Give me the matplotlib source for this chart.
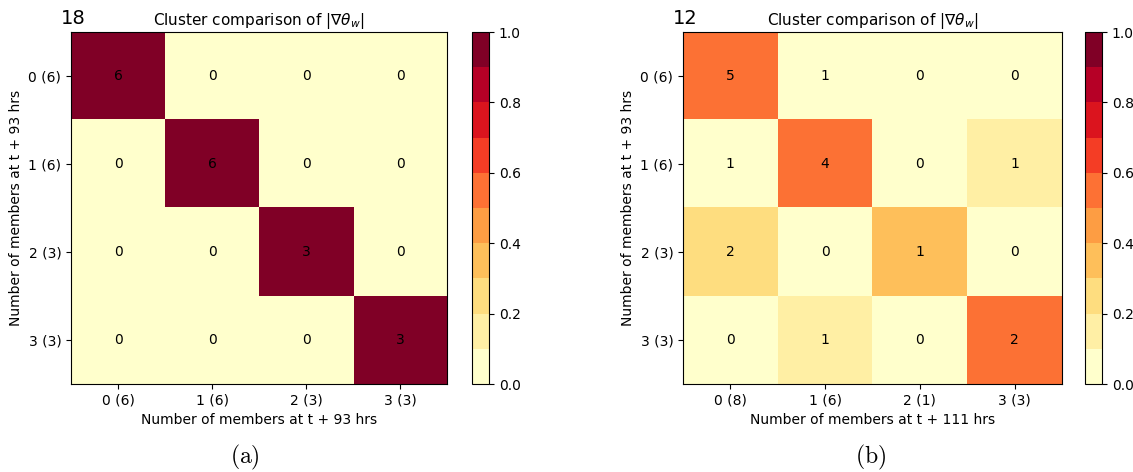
import numpy as np
import matplotlib
matplotlib.use('Agg')
from matplotlib import pyplot as plt

# labels
rows_a = ['0 (6)', '1 (6)', '2 (3)', '3 (3)']
cols_a = ['0 (6)', '1 (6)', '2 (3)', '3 (3)']
rows_b = ['0 (6)', '1 (6)', '2 (3)', '3 (3)']
cols_b = ['0 (8)', '1 (6)', '2 (1)', '3 (3)']

# shared members (numbers in the cells)
counts_a = [[6, 0, 0, 0],
            [0, 6, 0, 0],
            [0, 0, 3, 0],
            [0, 0, 0, 3]]
counts_b = [[5, 1, 0, 0],
            [1, 4, 0, 1],
            [2, 0, 1, 0],
            [0, 1, 0, 2]]

# similarity shown by the colours
score_a = [[1.0, 0.0, 0.0, 0.0],
           [0.0, 1.0, 0.0, 0.0],
           [0.0, 0.0, 1.0, 0.0],
           [0.0, 0.0, 0.0, 1.0]]
score_b = [[0.56, 0.09, 0.0, 0.0],
           [0.08, 0.50, 0.0, 0.13],
           [0.22, 0.0, 0.33, 0.0],
           [0.0, 0.13, 0.0, 0.50]]

corner = ['18', '12']
xlabels = ['Number of members at t + 93 hrs', 'Number of members at t + 111 hrs']
ylabel = 'Number of members at t + 93 hrs'
captions = ['(a)', '(b)']

fig = plt.figure(figsize=(11.33, 4.72), dpi=100)
cmap = plt.get_cmap('YlOrRd', 10)

ax_pos = [[0.0627, 0.1864, 0.3319, 0.7458], [0.6028, 0.1864, 0.3345, 0.7458]]
cb_pos = [[0.4166, 0.1864, 0.015, 0.7458], [0.9576, 0.1864, 0.015, 0.7458]]
cap_x = [0.216, 0.768]

panels = [(rows_a, cols_a, counts_a, score_a), (rows_b, cols_b, counts_b, score_b)]
for i, (rl, cl, cnt, sc) in enumerate(panels):
    ax = fig.add_axes(ax_pos[i])
    cax = fig.add_axes(cb_pos[i])
    im = ax.imshow(np.array(sc), cmap=cmap, vmin=0, vmax=1, aspect='auto',
                   interpolation='nearest')
    for r in range(len(rl)):
        for c in range(len(cl)):
            ax.text(c, r, str(cnt[r][c]), ha='center', va='center', fontsize=10, color='black')
    ax.set_xticks(range(len(cl)))
    ax.set_xticklabels(cl)
    ax.set_yticks(range(len(rl)))
    ax.set_yticklabels(rl)
    ax.set_xlabel(xlabels[i])
    ax.set_ylabel(ylabel)
    ax.set_title(r'Cluster comparison of $|\nabla\theta_w|$', fontsize=11, pad=5)
    ax.text(-0.027, 1.012, corner[i], transform=ax.transAxes, fontsize=14,
            ha='left', va='bottom')
    cb = fig.colorbar(im, cax=cax)
    cb.set_ticks([0.0, 0.2, 0.4, 0.6, 0.8, 1.0])
    fig.text(cap_x[i], 0.03, r'$\mathrm{' + captions[i] + '}$', ha='center', va='center',
             fontsize=17, math_fontfamily='cm')

fig.savefig('out.png', dpi=100)
